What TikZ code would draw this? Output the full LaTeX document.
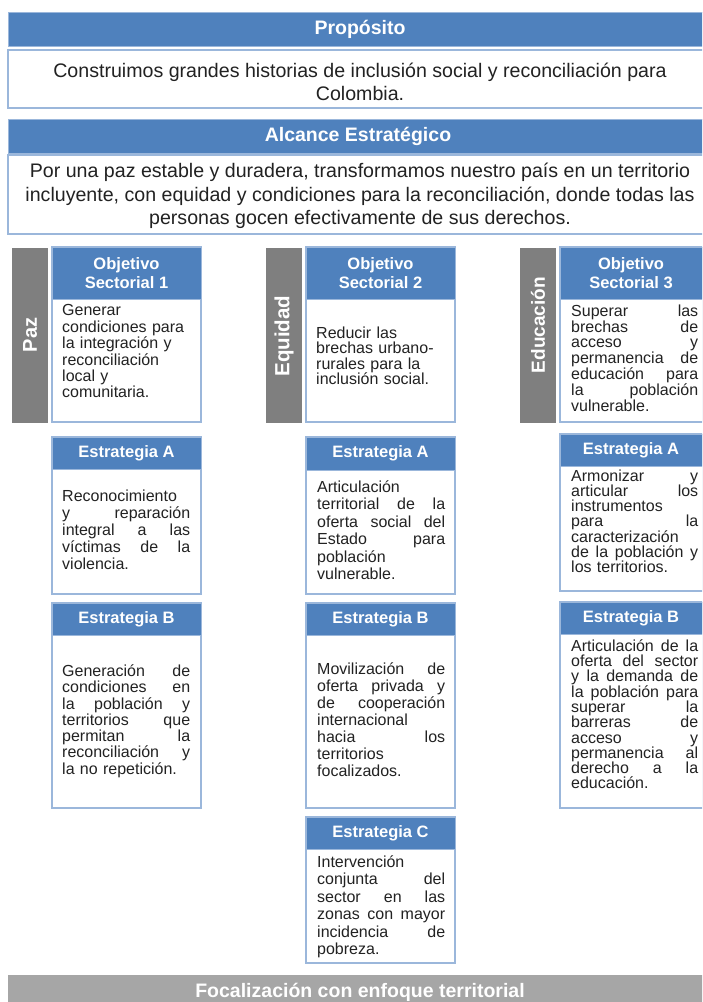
\documentclass[tikz,border=0pt]{standalone}
\usepackage{fontspec}
\setmainfont{Liberation Sans}
\usetikzlibrary{fit}
\definecolor{hblue}{HTML}{4F81BD}
\definecolor{bord}{HTML}{9BB7DB}
\definecolor{gbar}{HTML}{7F7F7F}
\definecolor{gfoot}{HTML}{A6A6A6}
\definecolor{txt}{HTML}{222222}
\newcommand\J[1]{\makebox[\hsize][s]{\spaceskip=.278em plus 1fil\relax\xspaceskip=\spaceskip #1}}
\newcommand\mkcard[6]{%
  \node[card, fit={(#2,#3)(#4,#6)}] (#1) {};
  \node[hdr, fit={(#2,#3)(#4,#5)}] (#1h) {};
}
\begin{document}
\begin{tikzpicture}[x=1pt,y=-1pt,
  card/.style={draw=bord, line width=1.3pt, fill=white, inner sep=0pt},
  hdr/.style={draw=bord, line width=1pt, fill=hblue, inner sep=0pt},
  htxt/.style={text=white, font=\bfseries\fontsize{16.5}{19}\selectfont, align=center, inner sep=0pt},
  ttitle/.style={text=white, font=\bfseries\fontsize{19.5}{22}\selectfont, inner sep=0pt},
  ttxt/.style={text=txt, font=\fontsize{19.6}{23.5}\selectfont, align=center, inner sep=0pt},
  ctext/.style={text=txt, anchor=north west, inner sep=0pt, text width=128pt, align=left, font=\fontsize{16}{#1}\selectfont},
  bar/.style={fill=gbar, draw=none, inner sep=0pt},
  bartxt/.style={text=white, rotate=90, inner sep=0pt, font=\bfseries\fontsize{#1}{#1}\selectfont}
]
\useasboundingbox (0,0) rectangle (702,1002);
\clip (0,0) rectangle (702,1002);

% Proposito
\node[hdr, fit={(8,12)(706,46)}] (prop) {};
\node[ttitle] (propt) at (360,29) {Propósito};
\node[card, fit={(8,50)(706,108)}] (propb) {};
\node[ttxt] (propbt) at (360,82) {Construimos grandes historias de inclusión social y reconciliación para\\Colombia.};

% Alcance
\node[hdr, fit={(8,119)(706,153)}] (alc) {};
\node[ttitle] (alct) at (358,136) {Alcance Estratégico};
\node[card, fit={(8,155)(706,234)}] (alcb) {};
\node[ttxt] (alcbt) at (360,196) {Por una paz estable y duradera, transformamos nuestro país en un territorio\\incluyente, con equidad y condiciones para la reconciliación, donde todas las\\personas gocen efectivamente de sus derechos.};

% gray bars
\node[bar, fit={(12,248)(48,423)}] (paz) {};
\node[bartxt=20] (pazt) at (30,335) {Paz};
\node[bar, fit={(266,248)(302,423)}] (equ) {};
\node[bartxt=20.5] (equt) at (284,336) {Equidad};
\node[bar, fit={(520,248)(556,423)}] (edu) {};
\node[bartxt=19] (edut) at (538,325) {Educación};

% Objetivos
\mkcard{o1}{52}{247}{201}{299}{422}
\node[htxt] (o1t) at (o1h.center) {Objetivo\\Sectorial 1};
\node[ctext=16.4] (o1b) at (62,304.5) {Generar\\condiciones para\\la integración y\\reconciliación\\local y\\comunitaria.};

\mkcard{o2}{306}{247}{455}{299}{422}
\node[htxt] (o2t) at (o2h.center) {Objetivo\\Sectorial 2};
\node[ctext=15.5] (o2b) at (316,326.5) {Reducir las\\brechas urbano-\\rurales para la\\inclusión social.};

\mkcard{o3}{560}{247}{703}{299}{422}
\node[htxt] (o3t) at (631,273) {Objetivo\\Sectorial 3};
\node[ctext=15.8, text width=127pt] (o3b) at (571,304.5) {\J{Superar las}\\\J{brechas de}\\\J{acceso y}\\\J{permanencia de}\\\J{educación para}\\\J{la población}\\vulnerable.};

% Estrategia A
\mkcard{a1}{52}{437}{201}{469}{594}
\node[htxt] (a1t) at (a1h.center) {Estrategia A};
\node[ctext=17] (a1b) at (62,489.5) {Reconocimiento\\\J{y reparación}\\\J{integral a las}\\\J{víctimas de la}\\violencia.};

\mkcard{a2}{306}{437}{455}{470}{594}
\node[htxt] (a2t) at (a2h.center) {Estrategia A};
\node[ctext=17.4] (a2b) at (317,480.5) {Articulación\\\J{territorial de la}\\\J{oferta social del}\\\J{Estado para}\\población\\vulnerable.};

\mkcard{a3}{560}{434}{703}{466}{591}
\node[htxt] (a3t) at (631,450) {Estrategia A};
\node[ctext=15.2, text width=127pt] (a3b) at (571,469.5) {\J{Armonizar y}\\\J{articular los}\\instrumentos\\\J{para la}\\caracterización\\\J{de la población y}\\los territorios.};

% Estrategia B
\mkcard{b1}{52}{603}{201}{635}{808}
\node[htxt] (b1t) at (b1h.center) {Estrategia B};
\node[ctext=16.3] (b1b) at (62,664.5) {\J{Generación de}\\\J{condiciones en}\\\J{la población y}\\\J{territorios que}\\\J{permitan la}\\\J{reconciliación y}\\la no repetición.};

\mkcard{b2}{306}{603}{455}{635}{808}
\node[htxt] (b2t) at (b2h.center) {Estrategia B};
\node[ctext=17] (b2b) at (317,662.5) {\J{Movilización de}\\\J{oferta privada y}\\\J{de cooperación}\\internacional\\\J{hacia los}\\territorios\\focalizados.};

\mkcard{b3}{560}{602}{703}{634}{808}
\node[htxt] (b3t) at (631,618) {Estrategia B};
\node[ctext=15.1, text width=127pt] (b3b) at (571,639.5) {\J{Articulación de la}\\\J{oferta del sector}\\\J{y la demanda de}\\\J{la población para}\\\J{superar la}\\\J{barreras de}\\\J{acceso y}\\\J{permanencia al}\\\J{derecho a la}\\educación.};

% Estrategia C
\mkcard{c2}{306}{817}{455}{849}{963}
\node[htxt] (c2t) at (c2h.center) {Estrategia C};
\node[ctext=17.4] (c2b) at (317,855.5) {Intervención\\\J{conjunta del}\\\J{sector en las}\\\J{zonas con mayor}\\\J{incidencia de}\\pobreza.};

% footer
\node[fill=gfoot, draw=none, inner sep=0pt, fit={(8,975)(706,1006)}] (foot) {};
\node[ttitle] (foott) at (360,992) {Focalización con enfoque territorial};
\end{tikzpicture}
\end{document}
